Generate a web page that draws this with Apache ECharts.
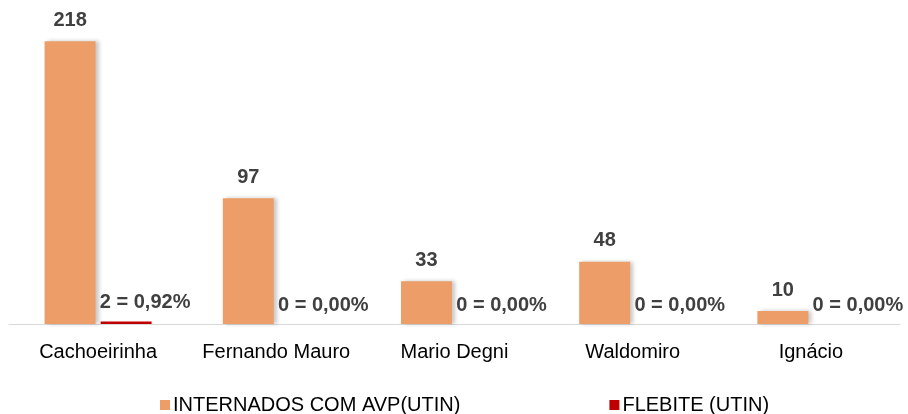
<!DOCTYPE html>
<html>
<head>
<meta charset="utf-8">
<script src="https://cdn.jsdelivr.net/npm/echarts@6/dist/echarts.min.js"></script>
<style>
  html, body { margin: 0; padding: 0; background: #fff; }
  #chart { width: 908px; height: 414px; }
</style>
</head>
<body>
<div id="chart"></div>
<script>
// dados do gráfico
var categorias = ['Cachoeirinha', 'Fernando Mauro', 'Mario Degni', 'Waldomiro', 'Ignácio']
var internados = [218, 97, 33, 48, 10]
var flebite = [2, 0, 0, 0, 0]
var flebitePct = ['0,92%', '0,00%', '0,00%', '0,00%', '0,00%']

var chart = echarts.init(document.getElementById('chart'))

var sombra = {
  shadowColor: 'rgba(0,0,0,0.22)',
  shadowBlur: 4,
  shadowOffsetX: 3,
  shadowOffsetY: 0
}

var option = {
  animation: false,
  textStyle: { fontFamily: 'Liberation Sans, Arial, sans-serif' },
  grid: { left: 9, right: 8, top: 10, bottom: 90 },
  legend: {
    top: 390,
    left: 155,
    itemWidth: 10,
    itemHeight: 10,
    itemGap: 149,
    icon: 'rect',
    textStyle: { fontSize: 20, color: '#000', padding: [0, 0, 0, -2] },
    data: ['INTERNADOS COM AVP(UTIN)', 'FLEBITE (UTIN)']
  },
  xAxis: {
    type: 'category',
    data: categorias,
    axisLine: { lineStyle: { color: '#D9D9D9', width: 1 } },
    axisTick: { show: false },
    axisLabel: { fontSize: 20, color: '#000', margin: 18, interval: 0 }
  },
  yAxis: {
    type: 'value',
    min: 0,
    max: 242,
    show: false,
    splitLine: { show: false }
  },
  series: [
    {
      name: 'INTERNADOS COM AVP(UTIN)',
      type: 'bar',
      data: internados,
      barWidth: '28.6%',
      barGap: '10%',
      itemStyle: Object.assign({ color: '#EC9D68' }, sombra),
      label: {
        show: true,
        position: 'top',
        distance: 11,
        fontSize: 20,
        fontWeight: 'bold',
        color: '#404040'
      }
    },
    {
      name: 'FLEBITE (UTIN)',
      type: 'bar',
      data: flebite,
      barWidth: '28.6%',
      itemStyle: { color: '#C00000' },
      label: {
        show: true,
        position: 'top',
        distance: 9,
        offset: [19, 0],
        fontSize: 20,
        fontWeight: 'bold',
        color: '#404040',
        formatter: function (p) {
          return p.value + ' = ' + flebitePct[p.dataIndex]
        }
      }
    }
  ]
}

chart.setOption(option)
</script>
</body>
</html>
